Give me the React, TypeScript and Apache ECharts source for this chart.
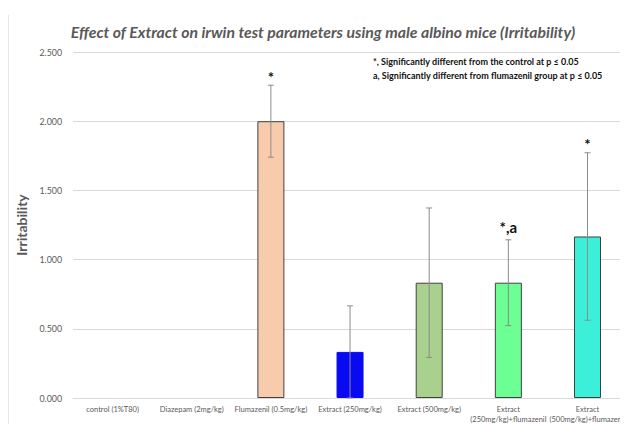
import React, { useEffect, useRef } from "react";
import * as echarts from "echarts";

const categories = [
  "control (1%T80)",
  "Diazepam (2mg/kg)",
  "Flumazenil (0.5mg/kg)",
  "Extract (250mg/kg)",
  "Extract (500mg/kg)",
  "Extract\n(250mg/kg)+flumazenil",
  "Extract\n(500mg/kg)+flumazenil",
];
const means = [0, 0, 2.0, 0.333, 0.833, 0.833, 1.167];
const errors = [0, 0, 0.26, 0.333, 0.54, 0.31, 0.605];
const marks = ["", "", "*", "", "", "*,a", "*"];
const colors = ["#F8CBAD", "#F8CBAD", "#F8CBAD", "#0A0AF2", "#A9D18E", "#6CFF94", "#3CEFD8"];
const yTicks = [0, 0.5, 1, 1.5, 2, 2.5];

const FONT = "Lato, 'Open Sans', sans-serif";

export default function App() {
  const ref = useRef<HTMLDivElement>(null);
  useEffect(() => {
    if (!ref.current) return;
    const chart = echarts.init(ref.current, null, { renderer: "svg" });
    const option: any = {
      animation: false,
      backgroundColor: "#ffffff",
      textStyle: { fontFamily: FONT },
      title: {
        text: "Effect of Extract on irwin test parameters using male albino mice (Irritability)",
        left: 318,
        textAlign: "center",
        top: 18,
        textStyle: {
          fontFamily: FONT,
          fontSize: 15.8,
          fontWeight: "bold",
          fontStyle: "italic",
          color: "#595959",
        },
      },
      grid: { left: 73, top: 52, width: 562, bottom: 25, containLabel: false },
      xAxis: {
        type: "category",
        data: categories,
        axisTick: { show: false },
        axisLine: { lineStyle: { color: "#d9d9d9", width: 1 } },
        axisLabel: {
          interval: 0,
          fontSize: 7.5,
          color: "#595959",
          fontFamily: FONT,
          margin: 6,
          lineHeight: 10,
        },
      },
      yAxis: {
        type: "value",
        min: 0,
        max: 2.5,
        interval: 0.5,
        name: "Irritability",
        nameLocation: "middle",
        nameGap: 42,
        nameTextStyle: { fontSize: 14, color: "#595959", fontFamily: FONT, fontWeight: "bold" },
        axisLine: { show: false },
        axisTick: { show: false },
        splitLine: { lineStyle: { color: "#d9d9d9", width: 1 } },
        axisLabel: {
          fontSize: 8.8,
          color: "#595959",
          fontFamily: FONT,
          margin: 11,
          formatter: (v: number) => (yTicks.includes(v) ? v.toFixed(3) : ""),
        },
      },
      graphic: [
        {
          type: "line",
          shape: { x1: 8.5, y1: 15, x2: 8.5, y2: 424 },
          style: { stroke: "#e6e6e6", lineWidth: 1 },
        },
        {
          type: "text",
          left: 373,
          top: 57,
          style: {
            text: "*, Significantly different from the control at p \u2264 0.05",
            fontSize: 9,
            fontWeight: "bold",
            fontFamily: FONT,
            fill: "#111",
          },
        },
        {
          type: "text",
          left: 373,
          top: 71,
          style: {
            text: "a, Significantly different from flumazenil group at p \u2264 0.05",
            fontSize: 9,
            fontWeight: "bold",
            fontFamily: FONT,
            fill: "#111",
          },
        },
      ],
      series: [
        {
          type: "bar",
          barWidth: 27,
          data: means.map((v, i) => ({
            value: v,
            itemStyle: {
              color: colors[i],
              borderColor: i === 3 ? "#0A0AF2" : "#404040",
              borderWidth: v > 0 ? 1 : 0,
            },
          })),
        },
        {
          type: "custom",
          data: means.map((v, i) => [i, v, errors[i]]),
          renderItem: (params: any, api: any) => {
            const i = api.value(0);
            const m = api.value(1);
            const e = api.value(2);
            const mk = marks[params.dataIndex];
            const children: any[] = [];
            if (e > 0) {
              const top = api.coord([i, m + e]);
              const bot = api.coord([i, m - e]);
              const x = top[0];
              const cap = 3;
              const st = { stroke: "#8c8c8c", lineWidth: 1 };
              children.push(
                { type: "line", shape: { x1: x, y1: top[1], x2: x, y2: bot[1] }, style: st },
                { type: "line", shape: { x1: x - cap, y1: top[1], x2: x + cap, y2: top[1] }, style: st },
                { type: "line", shape: { x1: x - cap, y1: bot[1], x2: x + cap, y2: bot[1] }, style: st }
              );
              if (mk) {
                children.push({
                  type: "text",
                  x: x,
                  y: top[1] - (mk.length > 1 ? 5 : 1),
                  style: {
                    text: mk,
                    fontSize: 15,
                    fontWeight: "bold",
                    fontFamily: FONT,
                    fill: "#111",
                    align: "center",
                    verticalAlign: "bottom",
                  },
                });
              }
            }
            return { type: "group", children };
          },
          z: 10,
        },
      ],
    };
    chart.setOption(option);
    return () => chart.dispose();
  }, []);
  return <div ref={ref} style={{ width: 628, height: 424, marginLeft: -8, marginTop: -8 }} />;
}
